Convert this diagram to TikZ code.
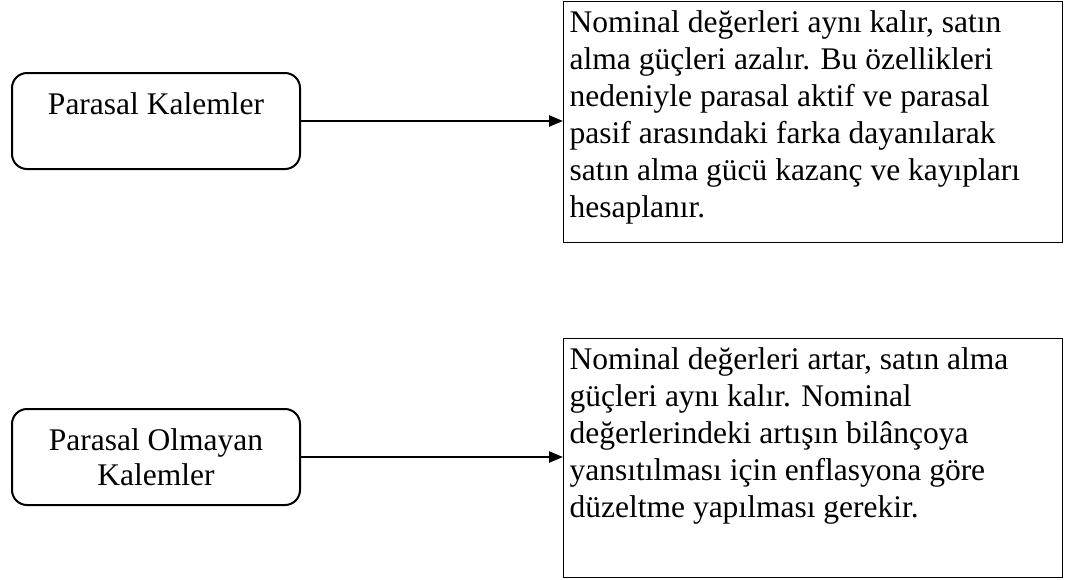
\documentclass[tikz,border=0pt]{standalone}
\usepackage{fontspec}
\setmainfont{Liberation Serif}
\usetikzlibrary{arrows.meta}
\tikzset{
  lbox/.style={draw, line width=2pt, rounded corners=15pt, minimum width=288pt, minimum height=96pt, align=center, inner sep=0pt, font=\fontsize{31.5}{35.5}\selectfont},
  rbox/.style={draw, line width=1.3pt, anchor=north west, inner xsep=6pt, inner ysep=9pt, font=\fontsize{31.5}{37}\selectfont},
  arr/.style={line width=2.4pt, -{Triangle[length=14pt,width=11pt]}, shorten >=0pt}
}
\begin{document}
\begin{tikzpicture}[x=1pt,y=-1pt]
\useasboundingbox (0,0) rectangle (1066,579);
\node[lbox] (p1) at (156,121) {Parasal Kalemler\\\mbox{}};
\node[lbox] (p2) at (156,457) {Parasal Olmayan\\Kalemler};
\node[rbox] (d1) at (563,1) {\parbox[t][223pt][t]{487pt}{\raggedright
Nominal değerleri aynı kalır, satın\\
alma güçleri azalır. Bu özellikleri\\
nedeniyle parasal aktif ve parasal\\
pasif arasındaki farka dayanılarak\\
satın alma gücü kazanç ve kayıpları\\
hesaplanır.}};
\node[rbox] (d2) at (563,338) {\parbox[t][221pt][t]{487pt}{\raggedright
Nominal değerleri artar, satın alma\\
güçleri aynı kalır. Nominal\\
değerlerindeki artışın bilânçoya\\
yansıtılması için enflasyona göre\\
düzeltme yapılması gerekir.}};
\draw[arr] (p1.east) -- (p1.east -| d1.west);
\draw[arr] (p2.east) -- (p2.east -| d2.west);
\end{tikzpicture}
\end{document}
